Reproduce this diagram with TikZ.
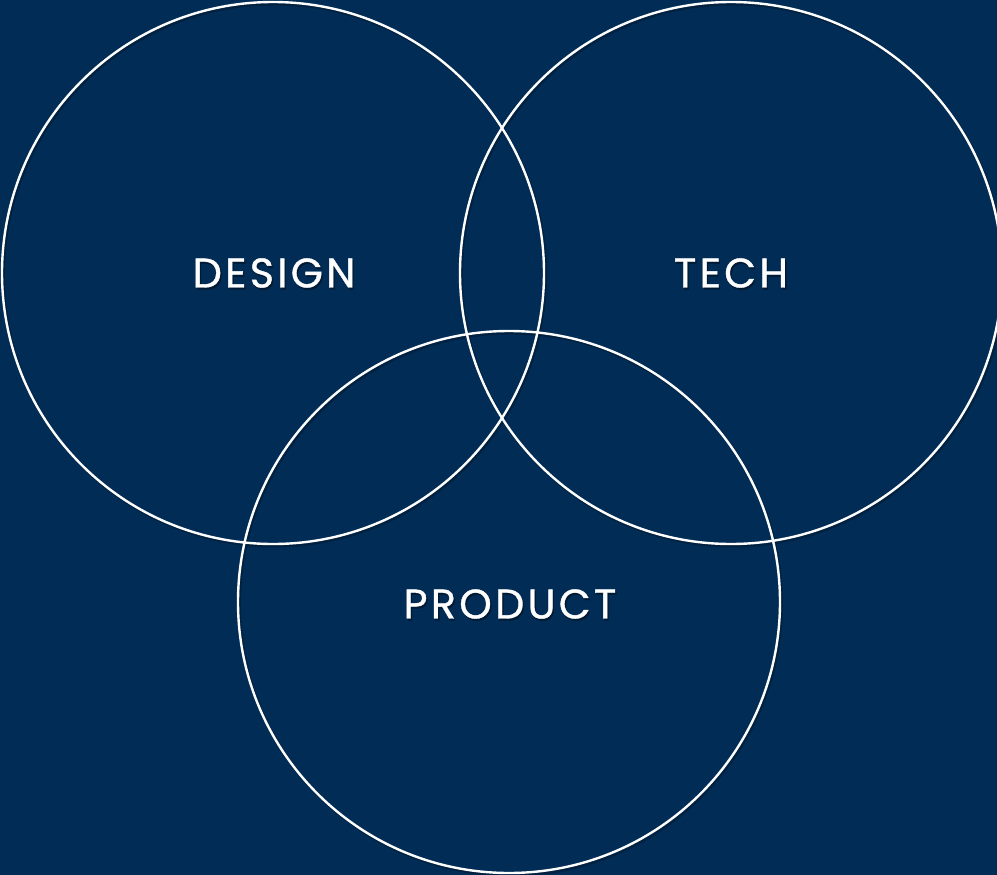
\documentclass[tikz,border=0pt]{standalone}
\usepackage{fontspec}
\setmainfont{Poppins}[LetterSpace=8,FakeBold=0.9]
\definecolor{bgblue}{HTML}{002C55}
\definecolor{shade}{HTML}{001A33}
\newcommand{\shadowtext}[1]{\makebox[0pt][l]{\hspace{1pt}\raisebox{-1.5pt}{\textcolor{shade}{#1}}}#1}
\begin{document}
\begin{tikzpicture}[x=0.75pt,y=-0.75pt,
  ring/.style={draw=white,line width=1.8pt},
  ringshadow/.style={draw=shade,line width=2.2pt,opacity=0.6},
  label/.style={text=white,font=\fontsize{31}{36}\selectfont,inner sep=0pt}]
\fill[bgblue] (0,0) rectangle (997,875);
\useasboundingbox (0,0) rectangle (997,875);
\coordinate (cd) at (273,273);
\coordinate (ct) at (731,273);
\coordinate (cp) at (509,602);
\foreach \c in {cd,ct,cp} \draw[ringshadow] ([shift={(1.5,2)}]\c) circle[radius=271];
\draw[ring] (cd) circle[radius=271];
\draw[ring] (ct) circle[radius=271];
\draw[ring] (cp) circle[radius=271];
\node[label] (design) at (274,274) {\shadowtext{DESIGN}};
\node[label] (tech) at (731,274) {\shadowtext{TECH}};
\node[label] (product) at (510,605) {\shadowtext{PRODUCT}};
\end{tikzpicture}
\end{document}
